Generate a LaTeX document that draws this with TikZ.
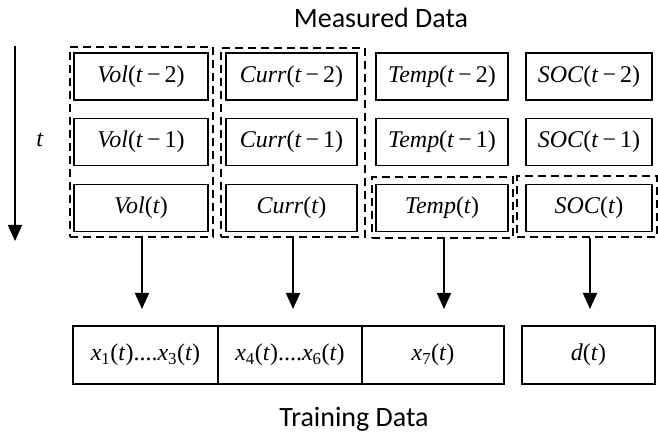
\documentclass[tikz,border=0pt]{standalone}
\usepackage{fontspec}
\setmainfont{Liberation Serif}
\newfontfamily\calib{Carlito}
\usetikzlibrary{arrows.meta}
\newcommand\iv[1]{\textit{#1}}
\begin{document}
\begin{tikzpicture}[x=1pt,y=-1pt,
  cell/.style={draw,line width=1.6pt,minimum width=131pt,minimum height=47pt,inner sep=0pt,font=\fontsize{24}{28}\selectfont},
  group/.style={draw,line width=2.4pt,dash pattern=on 8pt off 5pt,inner sep=0pt},
  tbox/.style={draw,line width=2.4pt,minimum height=58pt,inner sep=0pt,font=\fontsize{24}{28}\selectfont},
  arr/.style={line width=1.8pt,-{Triangle[width=14pt,length=16pt]}},
  title/.style={font=\calib\fontsize{28}{32}\selectfont,anchor=base}]
\useasboundingbox (0,0) rectangle (658,435);
% titles
\node[title] (mtitle) at (381,28) {Measured Data};
\node[title] (ttitle) at (354,426) {Training Data};
% time axis
\coordinate (tt) at (15,46);
\coordinate (tb) at (15,241);
\draw[arr] (tt) -- (tb);
\node[font=\fontsize{24}{28}\selectfont] (tlab) at (40,140) {\iv{t}};
% groups
\node[group,minimum width=143pt,minimum height=190pt] (volg) at (141.5,142) {};
\node[group,minimum width=144pt,minimum height=189pt] (curg) at (293,142.5) {};
\node[group,minimum width=141pt,minimum height=61pt] (temg) at (442.5,207.5) {};
\node[group,minimum width=140pt,minimum height=61pt] (socg) at (587,206.5) {};
% cells
\node[cell,minimum width=134pt] (v2) at (141,76.5) {\iv{Vol}(\iv{t}\,−\,2)};
\node[cell,minimum width=134pt] (v1) at (141,142) {\iv{Vol}(\iv{t}\,−\,1)};
\node[cell,minimum width=134pt] (v0) at (141,208) {\iv{Vol}(\iv{t})};
\node[cell] (c2) at (291.5,76.5) {\iv{Curr}(\iv{t}\,−\,2)};
\node[cell] (c1) at (291.5,142) {\iv{Curr}(\iv{t}\,−\,1)};
\node[cell] (c0) at (291.5,208) {\iv{Curr}(\iv{t})};
\node[cell,minimum width=132pt] (p2) at (442,76.5) {\iv{Temp}(\iv{t}\,−\,2)};
\node[cell,minimum width=132pt] (p1) at (442,142) {\iv{Temp}(\iv{t}\,−\,1)};
\node[cell,minimum width=132pt] (p0) at (442,208) {\iv{Temp}(\iv{t})};
\node[cell,minimum width=126pt] (s2) at (589,76.5) {\iv{SOC}(\iv{t}\,−\,2)};
\node[cell,minimum width=126pt] (s1) at (589,142) {\iv{SOC}(\iv{t}\,−\,1)};
\node[cell,minimum width=126pt] (s0) at (589,208) {\iv{SOC}(\iv{t})};
% training boxes
\node[tbox,minimum width=145pt] (t1) at (145.5,355) {\iv{x}\textsubscript{1}(\iv{t})....\iv{x}\textsubscript{3}(\iv{t})};
\node[tbox,minimum width=144pt] (t2) at (290,355) {\iv{x}\textsubscript{4}(\iv{t})....\iv{x}\textsubscript{6}(\iv{t})};
\node[tbox,minimum width=142pt] (t3) at (433,355) {\iv{x}\textsubscript{7}(\iv{t})};
\node[tbox,minimum width=133pt] (dd) at (588.5,355) {\iv{d}(\iv{t})};
% arrows
\coordinate (a1) at (142,309);
\coordinate (a2) at (293,309);
\coordinate (a3) at (444,309);
\coordinate (a4) at (590,309);
\draw[arr] (volg.south -| a1) -- (a1);
\draw[arr] (curg.south -| a2) -- (a2);
\draw[arr] (temg.south -| a3) -- (a3);
\draw[arr] (socg.south -| a4) -- (a4);
\end{tikzpicture}
\end{document}
